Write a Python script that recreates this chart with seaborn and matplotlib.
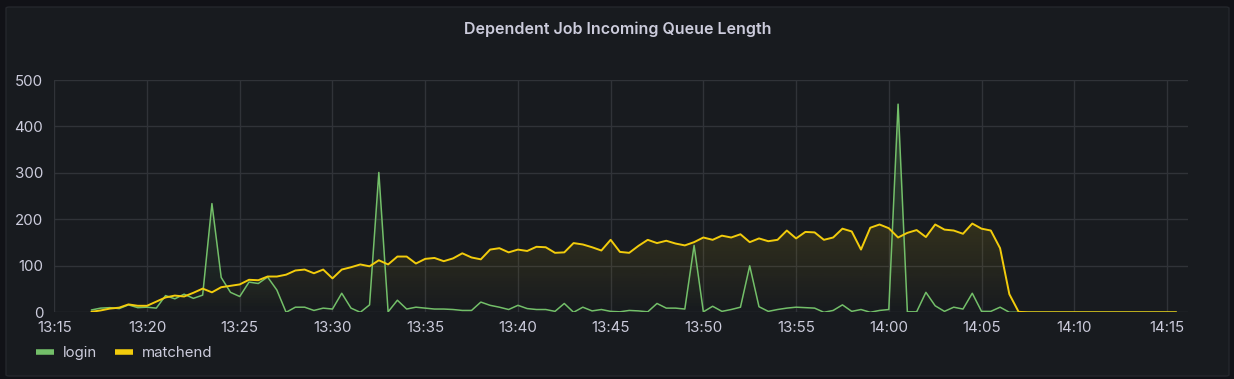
import numpy as np
import pandas as pd
import matplotlib
matplotlib.use("Agg")
import matplotlib.pyplot as plt
import matplotlib.dates as mdates
import matplotlib.colors as mcolors
from matplotlib.patches import FancyBboxPatch
from matplotlib.lines import Line2D
import seaborn as sns

# ---------------- data (30 s samples starting 13:17:00) ----------------
start_time = "2024-01-01 13:17:00"
step = "30s"

login = [
    5, 9, 10, 8, 16, 10, 11, 9, 36, 29,
    39, 30, 37, 234, 75, 43, 34, 65, 62, 76,
    48, 0, 11, 11, 4, 9, 7, 41, 9, 0,
    16, 301, 1, 26, 7, 11, 9, 7, 7, 6,
    4, 4, 22, 15, 11, 6, 15, 8, 6, 6,
    2, 19, 0, 11, 3, 6, 2, 1, 4, 3,
    1, 19, 9, 9, 7, 144, 1, 13, 2, 6,
    11, 100, 12, 2, 6, 9, 11, 10, 9, 0,
    4, 16, 2, 6, 0, 4, 6, 448, 1, 1,
    43, 14, 2, 11, 7, 41, 2, 2, 11, 0,
] + [0] * 18

matchend = [
    1, 4, 8, 10, 17, 14, 14, 23, 32, 36,
    34, 42, 51, 43, 54, 57, 60, 70, 69, 77,
    77, 81, 90, 92, 84, 92, 73, 92, 97, 103,
    99, 112, 103, 120, 120, 105, 115, 117, 110, 116,
    127, 118, 114, 135, 138, 129, 135, 132, 141, 140,
    128, 129, 149, 146, 140, 133, 156, 130, 128, 143,
    156, 149, 154, 148, 144, 151, 161, 156, 165, 161,
    168, 151, 159, 153, 156, 176, 159, 173, 172, 156,
    161, 180, 174, 135, 182, 189, 181, 161, 171, 177,
    162, 189, 178, 176, 169, 191, 180, 176, 138, 39,
    1,
] + [0] * 17

series_names = ["login", "matchend"]
colors = {"login": "#73bf69", "matchend": "#f2cc0c"}
y_ticks = [0, 100, 200, 300, 400, 500]

times = pd.date_range(start_time, periods=len(login), freq=step)
df = pd.DataFrame({"time": times, "login": login, "matchend": matchend})
long_df = df.melt(id_vars="time", var_name="series", value_name="value")

# ---------------- style ----------------
BG_OUT = "#111217"
BG_PANEL = "#181b1f"
GRID = "#303338"
TEXT = "#ccccdc"

sns.set_theme(style="dark", rc={
    "axes.facecolor": "none",
    "figure.facecolor": BG_OUT,
    "axes.edgecolor": BG_PANEL,
    "text.color": TEXT,
    "xtick.color": GRID,
    "ytick.color": GRID,
    "xtick.labelcolor": TEXT,
    "ytick.labelcolor": TEXT,
})
plt.rcParams["font.family"] = ["Inter", "DejaVu Sans"]

W, H = 1234, 379
fig = plt.figure(figsize=(W / 100, H / 100), dpi=100)

# panel background
panel = FancyBboxPatch((6 / W, 1 - 376 / H), (1229 - 6) / W, (376 - 7) / H,
                       boxstyle="round,pad=0,rounding_size=0.003",
                       transform=fig.transFigure, facecolor=BG_PANEL,
                       edgecolor="#24272c", linewidth=1, zorder=0)
fig.add_artist(panel)

ax = fig.add_axes([54.3 / W, 1 - 312.3 / H, (1188 - 54.3) / W, (312.3 - 80) / H])
ax.set_facecolor("none")

xnum = mdates.date2num(times)
x_left = mdates.date2num(pd.Timestamp("2024-01-01 13:15:00"))
x_right = mdates.date2num(pd.Timestamp("2024-01-01 14:16:08"))


def gradient_fill(ax, x, y, color, top_alpha=0.33, ymax=500):
    poly = ax.fill_between(x, y, 0, facecolor="none", edgecolor="none")
    grad = np.zeros((200, 1, 4))
    grad[:, :, :3] = mcolors.to_rgb(color)
    grad[:, :, 3] = np.linspace(0, top_alpha, 200)[:, None]
    im = ax.imshow(grad, aspect="auto", origin="lower",
                   extent=[x[0], x[-1], 0, ymax], zorder=1)
    im.set_clip_path(poly.get_paths()[0], transform=ax.transData)


for name in series_names:
    gradient_fill(ax, xnum, np.array(df[name], dtype=float), colors[name])

sns.lineplot(data=long_df, x="time", y="value", hue="series",
             hue_order=series_names, palette=colors, ax=ax,
             legend=False, zorder=3)
ax.lines[0].set_linewidth(1.1)
ax.lines[1].set_linewidth(1.4)

ax.set_xlim(x_left, x_right)
ax.set_ylim(0, 500)
ax.set_yticks(y_ticks)
ax.xaxis.set_major_locator(mdates.MinuteLocator(byminute=range(0, 60, 5)))
ax.xaxis.set_major_formatter(mdates.DateFormatter("%H:%M"))
ax.grid(True, color=GRID, linewidth=1)
ax.set_axisbelow(True)
for s in ax.spines.values():
    s.set_visible(False)
ax.tick_params(axis="both", which="major", length=3, width=1,
               labelsize=10.8, colors=GRID, labelcolor=TEXT)
ax.tick_params(axis="y", pad=5)
ax.tick_params(axis="x", pad=3.5)
ax.set_xlabel("")
ax.set_ylabel("")

fig.text(0.5004, 1 - 29 / H, "Dependent Job Incoming Queue Length",
         ha="center", va="center", fontsize=11.5, fontweight="semibold",
         color=TEXT)

handles = [Line2D([0], [0], color=colors[n], linewidth=4,
                  solid_capstyle="butt") for n in series_names]
fig.legend(handles, series_names, loc="center left",
           bbox_to_anchor=(22 / W, 1 - 353 / H), frameon=False,
           fontsize=10.8, handlelength=1.2, handletextpad=0.6,
           columnspacing=1.2, ncol=2, labelcolor=TEXT)

fig.savefig("out.png", dpi=100, facecolor=BG_OUT)
